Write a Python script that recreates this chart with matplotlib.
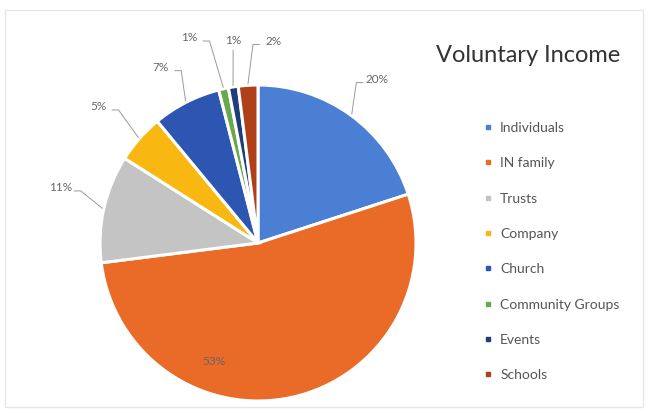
import numpy as np
import matplotlib
matplotlib.use("Agg")
import matplotlib.pyplot as plt
from matplotlib.lines import Line2D
from matplotlib.patches import Rectangle

# data
sources = ['Individuals', 'IN family', 'Trusts', 'Company', 'Church',
           'Community Groups', 'Events', 'Schools']
shares = [20, 53, 11, 5, 7, 1, 1, 2]
colors = ['#4a7fd4', '#ea6a28', '#c4c4c4', '#f8b811', '#2d56b2',
          '#6aa84f', '#1f3d7a', '#b0401a']

# label placement: (radius, angle nudge in deg) per slice
label_r = [1.28, 0.80, 1.30, 1.33, 1.27, 1.37, 1.29, 1.28]
label_nudge = [0, -33, -3, 1, 2, 6, -2, -8]

plt.rcParams['font.family'] = ['Lato', 'DejaVu Sans']

fig = plt.figure(figsize=(6.48, 4.15), dpi=100)
fig.patches.append(Rectangle((0.008, 0.02), 0.985, 0.955, transform=fig.transFigure,
                             fill=False, edgecolor='#e6e6e6', lw=1))

cx, cy, R = 258, 243, 158
W, H = 648, 415
ax = fig.add_axes([(cx - R) / W, (H - cy - R) / H, 2 * R / W, 2 * R / H])
wedges, _ = ax.pie(shares, colors=colors, startangle=90, counterclock=False,
                   wedgeprops=dict(edgecolor='white', linewidth=2.2))
ax.set_xlim(-1, 1)
ax.set_ylim(-1, 1)
ax.set_aspect('equal')
ax.axis('off')

for i, w in enumerate(wedges):
    mid = np.deg2rad((w.theta1 + w.theta2) / 2)
    ang = mid + np.deg2rad(label_nudge[i])
    r = label_r[i]
    tx, ty = r * np.cos(ang), r * np.sin(ang)
    ax.text(tx, ty, '%d%%' % shares[i], ha='center', va='center',
            fontsize=8.5, color='#666666', clip_on=False)
    if r < 1.1:
        continue
    # leader line: short tick beside the label, then down to the slice
    ex, ey = 1.01 * np.cos(mid), 1.01 * np.sin(mid)
    if abs(ex - tx) < 0.04:
        xs, ys = [tx, ex], [ty - 0.06, ey]
    elif ex > tx:
        sx = tx + 0.09
        xs, ys = [sx, sx + 0.04, ex], [ty - 0.02, ty - 0.02, ey]
    else:
        sx = tx - 0.09
        xs, ys = [sx, sx - 0.04, ex], [ty - 0.02, ty - 0.02, ey]
    ax.plot(xs, ys, color='#9a9a9a', lw=0.7, clip_on=False)

handles = [Line2D([], [], marker='s', ls='', markersize=3.5, color=c) for c in colors]
fig.legend(handles, sources, loc='upper left', bbox_to_anchor=(478 / W, 1 - 115 / H),
           frameon=False, fontsize=10, labelcolor='#555555', labelspacing=1.68,
           handlelength=0.5, handletextpad=0.6, borderpad=0)

fig.text(528 / W, 1 - 56 / H, 'Voluntary Income', ha='center', va='center',
         fontsize=17, color='#333333')

fig.savefig('out.png', dpi=100)
